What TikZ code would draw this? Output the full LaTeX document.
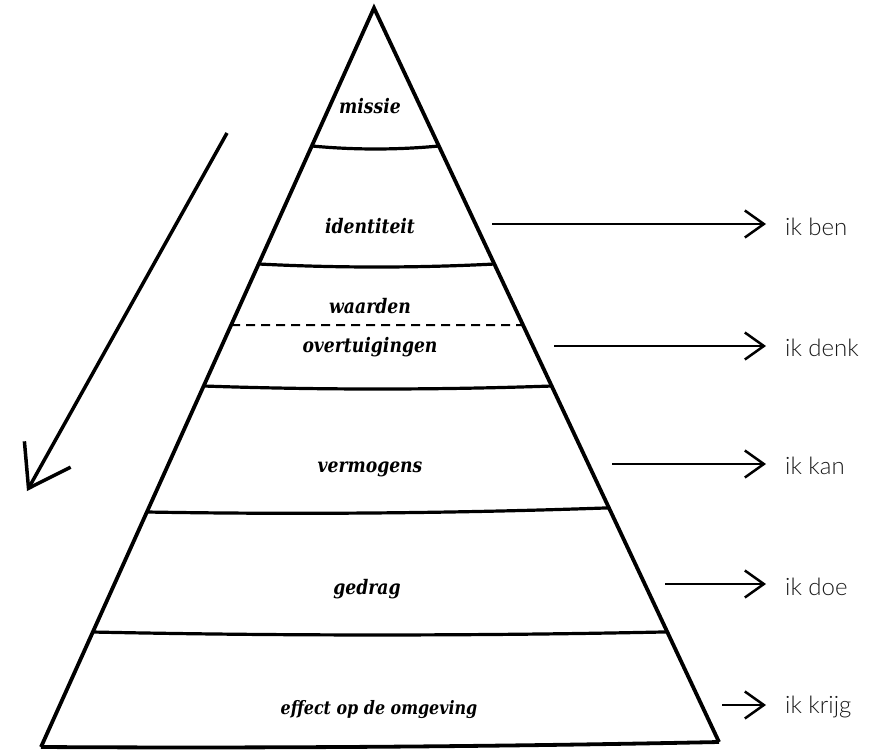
\documentclass[tikz,border=0pt]{standalone}
\usepackage{fontspec}
\newfontfamily\lightfont{Lato}[UprightFont=* Light]
\newfontfamily\labfont{DejaVu Serif}[FakeStretch=0.86]
\usetikzlibrary{arrows.meta,calc}
\begin{document}
\begin{tikzpicture}[x=1pt,y=-1pt,
  edge/.style={line width=3.8pt, line join=miter},
  level/.style={line width=3.2pt, line cap=round},
  sag/.style={to path={.. controls ($(\tikztostart)!0.33!(\tikztotarget)+(0,#1)$) and ($(\tikztostart)!0.67!(\tikztotarget)+(0,#1)$) .. (\tikztotarget)}},
  sag/.default=4,
  dashline/.style={line width=2pt, dash pattern=on 9pt off 6pt},
  lab/.style={font=\labfont\bfseries\itshape\fontsize{20}{24}\selectfont, inner sep=0, anchor=base},
  rlab/.style={font=\lightfont\fontsize{24}{28}\selectfont, text=black!90, anchor=base west, inner sep=0},
  rarr/.style={line width=2.5pt, shorten >=19pt, -{Straight Barb[length=19pt,width=27pt]}},
  darr/.style={line width=3.5pt, -{Straight Barb[length=39pt,width=53pt]}}
]
\useasboundingbox (0,0) rectangle (879,750);
% pyramid corners
\coordinate (A) at (374,8);
\coordinate (BL) at (41,747);
\coordinate (BR) at (719,742);
\draw[edge] (BL) -- (A) -- (BR);
\draw[edge] (BL) to[sag=3] (BR);
% level lines
\coordinate (L1) at ($(A)!0.1867!(BL)$); \coordinate (R1) at ($(A)!0.188!(BR)$);
\coordinate (L2) at ($(A)!0.3464!(BL)$); \coordinate (R2) at ($(A)!0.3488!(BR)$);
\coordinate (L3) at ($(A)!0.429!(BL)$);  \coordinate (R3) at ($(A)!0.4319!(BR)$);
\coordinate (L4) at ($(A)!0.5115!(BL)$); \coordinate (R4) at ($(A)!0.515!(BR)$);
\coordinate (L5) at ($(A)!0.682!(BL)$);  \coordinate (R5) at ($(A)!0.681!(BR)$);
\coordinate (L6) at ($(A)!0.8444!(BL)$); \coordinate (R6) at ($(A)!0.850!(BR)$);
\draw[level] (L1) to[sag] (R1);
\draw[level] (L2) to[sag] (R2);
\draw[dashline] (L3) -- (R3);
\draw[level] (L4) to[sag] (R4);
\draw[level] (L5) to[sag] (R5);
\draw[level] (L6) to[sag] (R6);
% labels in pyramid
\node[lab] (missie) at (370,113) {missie};
\node[lab] (ident) at (370,233) {identiteit};
\node[lab] (waard) at (370,313) {waarden};
\node[lab] (overt) at (370,352) {overtuigingen};
\node[lab] (verm) at (370,472) {vermogens};
\node[lab] (gedrag) at (367,594) {gedrag};
\node[lab, font=\labfont\bfseries\itshape\fontsize{18.5}{22}\selectfont] (effect) at (379,714) {effect op de omgeving};
% right labels
\node[rlab] (ben) at (785,235) {ik ben};
\node[rlab] (denk) at (785,356) {ik denk};
\node[rlab] (kan) at (785,474) {ik kan};
\node[rlab] (doe) at (785,595) {ik doe};
\node[rlab] (krijg) at (785,713) {ik krijg};
\coordinate (s1) at (492,224);
\coordinate (s2) at (554,346);
\coordinate (s3) at (612,464);
\coordinate (s4) at (665,584);
\coordinate (s5) at (722,705);
\draw[rarr] (s1) -- (s1 -| ben.west);
\draw[rarr] (s2) -- (s2 -| denk.west);
\draw[rarr] (s3) -- (s3 -| kan.west);
\draw[rarr] (s4) -- (s4 -| doe.west);
\draw[rarr] (s5) -- (s5 -| krijg.west);
% left arrow
\coordinate (d1) at (227,133);
\coordinate (d2) at (27,491);
\draw[darr] (d1) -- (d2);
\end{tikzpicture}
\end{document}
